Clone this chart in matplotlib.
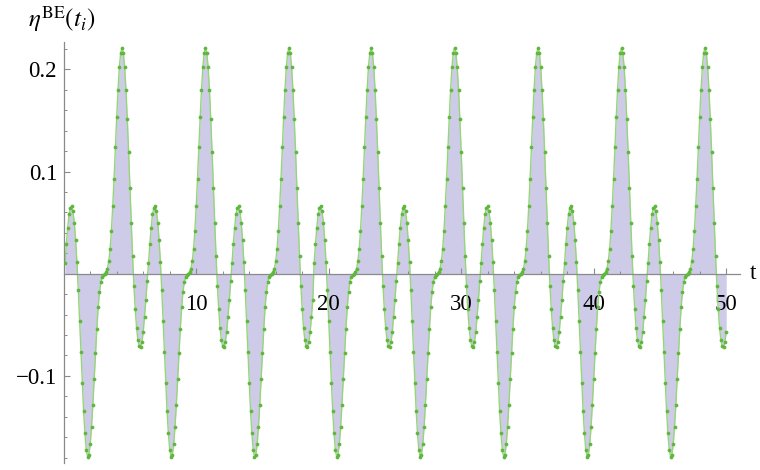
import numpy as np
import matplotlib
matplotlib.use("Agg")
import matplotlib.pyplot as plt
from matplotlib.ticker import FixedLocator

# eta^BE(t_i), sampled every 0.1 from t = 0.1 to 50.0 (values read off the plot,
# one row per period of the oscillation)
eta_rows = [
    [0.010, 0.029, 0.045, 0.058, 0.064, 0.066, 0.061, 0.050, 0.033, 0.011,
     -0.016, -0.046, -0.077, -0.107, -0.134, -0.156, -0.172, -0.179, -0.177, -0.167,
     -0.150, -0.128, -0.103, -0.078, -0.054, -0.033, -0.018, -0.008, -0.003, -0.001,
     0.000, 0.002, 0.005, 0.012, 0.024, 0.042, 0.066, 0.093, 0.124, 0.153,
     0.180, 0.202, 0.216, 0.221, 0.216, 0.202, 0.180, 0.151, 0.119, 0.084,
     0.050, 0.017, -0.012, -0.035, -0.053, -0.065, -0.071, -0.072, -0.067, -0.057,
     -0.042, -0.026, -0.007],
    [0.010, 0.029, 0.045, 0.058, 0.064, 0.066, 0.061, 0.050, 0.033, 0.011,
     -0.016, -0.046, -0.077, -0.107, -0.134, -0.156, -0.172, -0.179, -0.177, -0.167,
     -0.150, -0.128, -0.103, -0.078, -0.054, -0.033, -0.018, -0.008, -0.003, -0.001,
     0.000, 0.002, 0.005, 0.012, 0.024, 0.042, 0.066, 0.093, 0.124, 0.153,
     0.180, 0.202, 0.216, 0.221, 0.216, 0.202, 0.180, 0.151, 0.119, 0.084,
     0.050, 0.017, -0.012, -0.035, -0.053, -0.065, -0.071, -0.072, -0.067, -0.057,
     -0.042, -0.026, -0.007],
    [0.010, 0.029, 0.045, 0.058, 0.064, 0.066, 0.061, 0.050, 0.033, 0.011,
     -0.016, -0.046, -0.077, -0.107, -0.134, -0.156, -0.172, -0.179, -0.177, -0.167,
     -0.150, -0.128, -0.103, -0.078, -0.054, -0.033, -0.018, -0.008, -0.003, -0.001,
     0.000, 0.002, 0.005, 0.012, 0.024, 0.042, 0.066, 0.093, 0.124, 0.153,
     0.180, 0.202, 0.216, 0.221, 0.216, 0.202, 0.180, 0.151, 0.119, 0.084,
     0.050, 0.017, -0.012, -0.035, -0.053, -0.065, -0.071, -0.072, -0.067, -0.057,
     -0.042, -0.026],
    [0.010, 0.029, 0.045, 0.058, 0.064, 0.066, 0.061, 0.050, 0.033, 0.011,
     -0.016, -0.046, -0.077, -0.107, -0.134, -0.156, -0.172, -0.179, -0.177, -0.167,
     -0.150, -0.128, -0.103, -0.078, -0.054, -0.033, -0.018, -0.008, -0.003, -0.001,
     0.000, 0.002, 0.005, 0.012, 0.024, 0.042, 0.066, 0.093, 0.124, 0.153,
     0.180, 0.202, 0.216, 0.221, 0.216, 0.202, 0.180, 0.151, 0.119, 0.084,
     0.050, 0.017, -0.012, -0.035, -0.053, -0.065, -0.071, -0.072, -0.067, -0.057,
     -0.042, -0.026, -0.007],
    [0.010, 0.029, 0.045, 0.058, 0.064, 0.066, 0.061, 0.050, 0.033, 0.011,
     -0.016, -0.046, -0.077, -0.107, -0.134, -0.156, -0.172, -0.179, -0.177, -0.167,
     -0.150, -0.128, -0.103, -0.078, -0.054, -0.033, -0.018, -0.008, -0.003, -0.001,
     0.000, 0.002, 0.005, 0.012, 0.024, 0.042, 0.066, 0.093, 0.124, 0.153,
     0.180, 0.202, 0.216, 0.221, 0.216, 0.202, 0.180, 0.151, 0.119, 0.084,
     0.050, 0.017, -0.012, -0.035, -0.053, -0.065, -0.071, -0.072, -0.067, -0.057,
     -0.042, -0.026, -0.007],
    [0.010, 0.029, 0.045, 0.058, 0.064, 0.066, 0.061, 0.050, 0.033, 0.011,
     -0.016, -0.046, -0.077, -0.107, -0.134, -0.156, -0.172, -0.179, -0.177, -0.167,
     -0.150, -0.128, -0.103, -0.078, -0.054, -0.033, -0.018, -0.008, -0.003, -0.001,
     0.000, 0.002, 0.005, 0.012, 0.024, 0.042, 0.066, 0.093, 0.124, 0.153,
     0.180, 0.202, 0.216, 0.221, 0.216, 0.202, 0.180, 0.151, 0.119, 0.084,
     0.050, 0.017, -0.012, -0.035, -0.053, -0.065, -0.071, -0.072, -0.067, -0.057,
     -0.042, -0.026, -0.007],
    [0.010, 0.029, 0.045, 0.058, 0.064, 0.066, 0.061, 0.050, 0.033, 0.011,
     -0.016, -0.046, -0.077, -0.107, -0.134, -0.156, -0.172, -0.179, -0.177, -0.167,
     -0.150, -0.128, -0.103, -0.078, -0.054, -0.033, -0.018, -0.008, -0.003, -0.001,
     0.000, 0.002, 0.005, 0.012, 0.024, 0.042, 0.066, 0.093, 0.124, 0.153,
     0.180, 0.202, 0.216, 0.221, 0.216, 0.202, 0.180, 0.151, 0.119, 0.084,
     0.050, 0.017, -0.012, -0.035, -0.053, -0.065, -0.071, -0.072, -0.067, -0.057,
     -0.042, -0.026, -0.007],
    [0.010, 0.029, 0.045, 0.058, 0.064, 0.066, 0.061, 0.050, 0.033, 0.011,
     -0.016, -0.046, -0.077, -0.107, -0.134, -0.156, -0.172, -0.179, -0.177, -0.167,
     -0.150, -0.128, -0.103, -0.078, -0.054, -0.033, -0.018, -0.008, -0.003, -0.001,
     0.000, 0.002, 0.005, 0.012, 0.024, 0.042, 0.066, 0.093, 0.124, 0.153,
     0.180, 0.202, 0.216, 0.221, 0.216, 0.202, 0.180, 0.151, 0.119, 0.084,
     0.050, 0.017, -0.012, -0.035, -0.053, -0.065, -0.071, -0.072, -0.067, -0.057],
]
eta = np.array([v for row in eta_rows for v in row])
t = np.round(np.arange(1, len(eta) + 1) * 0.1, 1)

x_ticks = [10, 20, 30, 40, 50]
x_labels = ["10", "20", "30", "40", "50"]
y_ticks = [-0.1, 0.1, 0.2]
y_labels = ["\u22120.1", "0.1", "0.2"]

plt.rcParams["font.family"] = ["Liberation Serif", "DejaVu Serif"]
plt.rcParams["mathtext.fontset"] = "stix"

fig = plt.figure(figsize=(7.6, 4.7), dpi=100)
ax = fig.add_axes([63.7 / 760, 7.2 / 470, 676.4 / 760, 421.1 / 470])

ax.fill_between(t, eta, 0, color="#cdcbe7", lw=0, zorder=1)
ax.plot(t, eta, color="#96d678", lw=1.0, zorder=2)
ax.plot(t, eta, "o", color="#5fb83c", markersize=2.7, markeredgewidth=0, zorder=3)

ax.set_xlim(0, 51.05)
ax.set_ylim(-0.185, 0.227)

for s in ["top", "right"]:
    ax.spines[s].set_visible(False)
ax.spines["bottom"].set_position(("data", 0))
ax.spines["left"].set_position(("data", 0))
for s in ["bottom", "left"]:
    ax.spines[s].set_color("#8a8a8a")
    ax.spines[s].set_linewidth(0.9)
    ax.spines[s].set_zorder(2.5)

ax.set_xticks(x_ticks)
ax.set_xticklabels(x_labels)
ax.xaxis.set_minor_locator(FixedLocator([v for v in range(2, 51, 2) if v % 10]))
ax.set_yticks(y_ticks)
ax.set_yticklabels(y_labels)
ax.yaxis.set_minor_locator(FixedLocator(
    [round(v, 2) for v in np.arange(-0.18, 0.221, 0.02) if abs(v) > 1e-6 and round(v, 2) not in (-0.1, 0.1, 0.2)]))

ax.tick_params(axis="both", which="both", direction="in", color="#8a8a8a",
               labelsize=16.5, labelcolor="black")
ax.tick_params(axis="x", which="major", length=4.5, width=0.8, pad=14.5)
ax.tick_params(axis="x", which="minor", length=2.5, width=0.7)
ax.tick_params(axis="y", which="major", length=4.5, width=0.8, pad=4.8)
ax.tick_params(axis="y", which="minor", length=2.5, width=0.7)

ax.annotate("t", xy=(51.05, 0), xytext=(7, 0), textcoords="offset points",
            ha="left", va="center", fontsize=17)
fig.text(28 / 760, 1 - 34 / 470, r"$\eta^{\mathrm{BE}}(t_i)$", ha="left", va="bottom",
         fontsize=18)

fig.savefig("out.png", dpi=100)
